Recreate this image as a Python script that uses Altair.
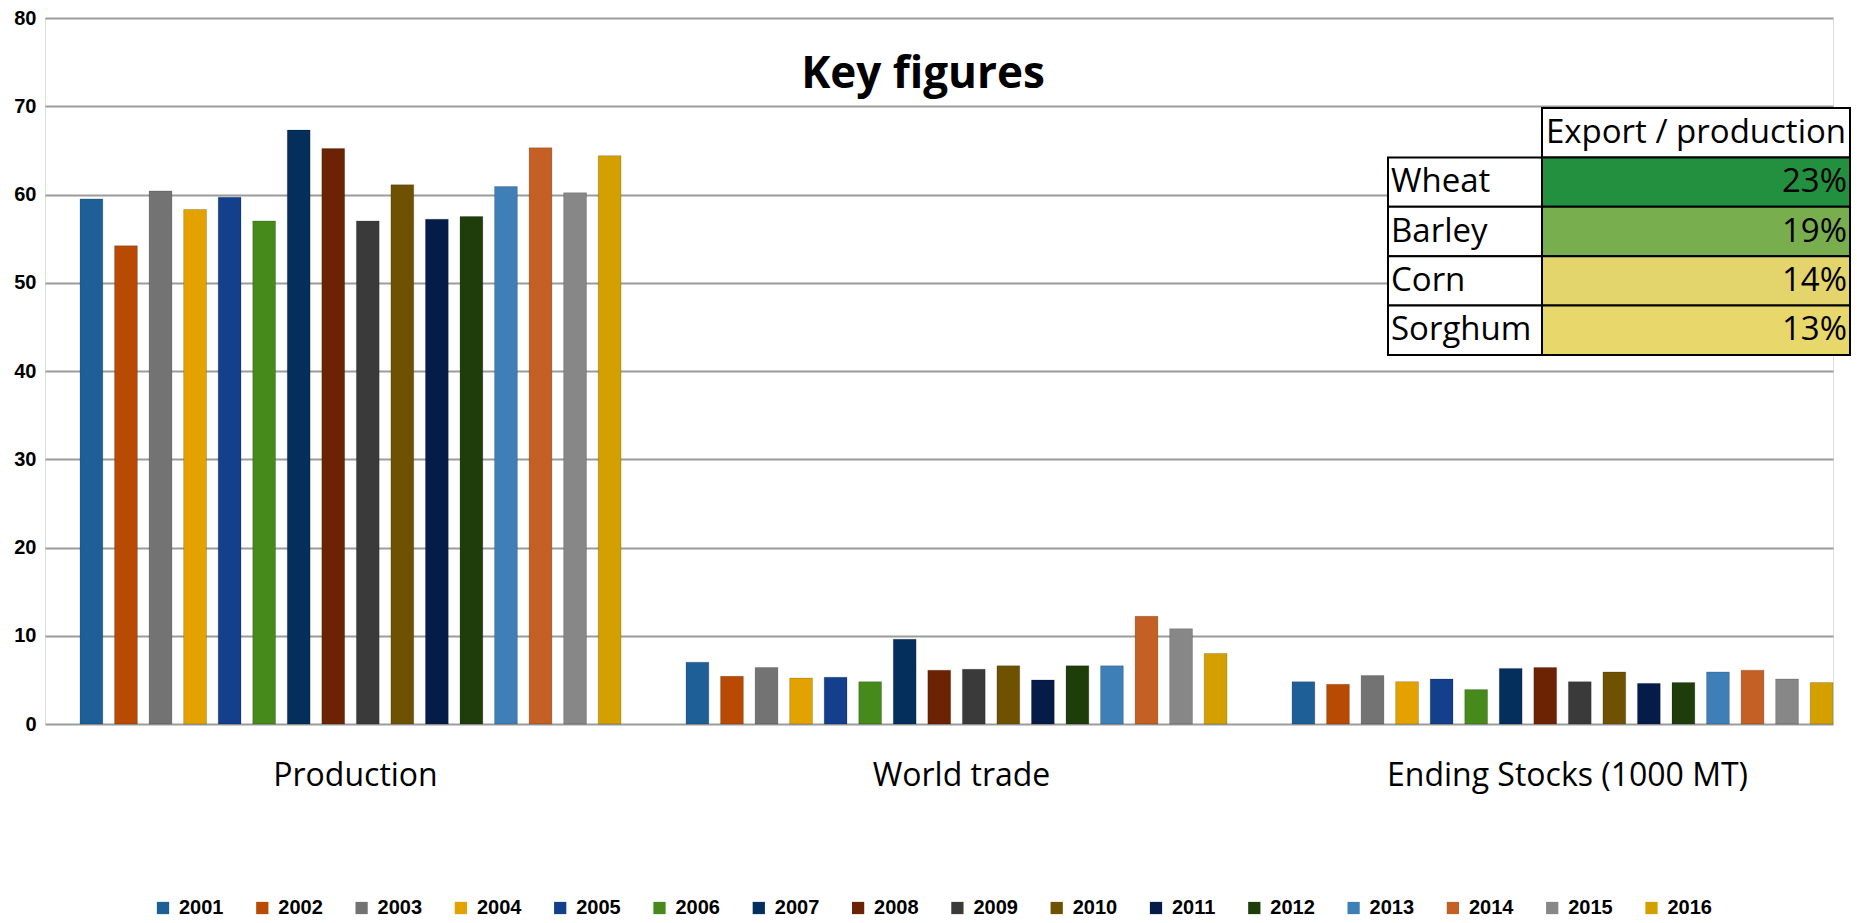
import altair as alt
import pandas as pd

# ---- chart data -------------------------------------------------------------
years = [str(y) for y in range(2001, 2017)]
categories = ["Production", "World trade", "Ending Stocks (1000 MT)"]

production = [59.5, 54.2, 60.4, 58.3, 59.7, 57.0, 67.3, 65.2,
              57.0, 61.1, 57.2, 57.5, 60.9, 65.3, 60.2, 64.4]
world_trade = [7.0, 5.4, 6.4, 5.2, 5.3, 4.8, 9.6, 6.1,
               6.2, 6.6, 5.0, 6.6, 6.6, 12.2, 10.8, 8.0]
ending_stocks = [4.8, 4.5, 5.5, 4.8, 5.1, 3.9, 6.3, 6.4,
                 4.8, 5.9, 4.6, 4.7, 5.9, 6.1, 5.1, 4.7]

year_colors = ["#1F5F97", "#B84A04", "#737373", "#E3A200", "#133F8C", "#458A1A",
               "#042E5B", "#6B2304", "#3A3A3A", "#6F5102", "#061C48", "#1E3D0A",
               "#3F7FB8", "#C46024", "#878787", "#D4A000"]

# inset table: export / production share per crop
crops = ["Wheat", "Barley", "Corn", "Sorghum"]
export_share = [23, 19, 14, 13]
share_colors = ["#22903F", "#79AE4F", "#E3D46B", "#E8D76B"]
table_header = "Export / production"

# ---- frames -----------------------------------------------------------------
series = {"Production": production, "World trade": world_trade,
          "Ending Stocks (1000 MT)": ending_stocks}
bars_df = pd.DataFrame(
    [{"category": c, "year": y, "value": v}
     for c in categories for y, v in zip(years, series[c])]
)

row_keys = ["header"] + crops
value_cells = pd.DataFrame({
    "row": row_keys,
    "text": [table_header] + [f"{s}%" for s in export_share],
    "x0": 1, "x1": 3,
})
name_cells = pd.DataFrame({"row": crops, "text": crops, "x0": 0, "x1": 1})

NUM = "Liberation Sans Narrow, Liberation Sans, Arial, sans-serif"
TEXT = "Open Sans"

# ---- grouped bars -----------------------------------------------------------
bars = alt.Chart(bars_df).mark_bar(
    stroke="black", strokeOpacity=0.18, strokeWidth=1
).encode(
    x=alt.X(
        "category:N", sort=categories,
        scale=alt.Scale(domain=categories, paddingInner=0.1073,
                        paddingOuter=0.0289, align=1),
        axis=alt.Axis(
            title=None, labelAngle=0, ticks=False, domain=False, grid=False,
            labelLimit=0, labelFont=TEXT, labelFontSize=32, labelColor="black",
            labelBaseline="top", labelPadding=36, labelOffset=5,
        ),
    ),
    xOffset=alt.XOffset(
        "year:N", sort=years,
        scale=alt.Scale(domain=years, paddingInner=0.34, paddingOuter=0),
    ),
    y=alt.Y(
        "value:Q", scale=alt.Scale(domain=[0, 80]),
        axis=alt.Axis(
            title=None, values=list(range(0, 81, 10)), ticks=False, domain=False,
            gridColor="#9B9B9B", gridWidth=2,
            labelFont=NUM, labelFontSize=20, labelFontWeight="bold",
            labelColor="black", labelPadding=9,
        ),
    ),
    color=alt.Color(
        "year:N", sort=years,
        scale=alt.Scale(domain=years, range=year_colors),
        legend=alt.Legend(
            title=None, orient="none", legendX=108, legendY=880,
            direction="horizontal", columns=16, columnPadding=28.3,
            symbolType="square", symbolSize=150, symbolStrokeWidth=0,
            labelFont=NUM, labelFontSize=20, labelFontWeight="bold",
            labelColor="black", labelOffset=6,
        ),
    ),
)

# ---- inset table ------------------------------------------------------------
table_x = alt.Scale(domain=[0, 3], range=[1343, 1805])
tx = alt.X("x0:Q", scale=table_x, axis=None)
ty = alt.Y("row:N", sort=row_keys,
           scale=alt.Scale(domain=row_keys, range=[90, 337],
                           paddingInner=0, paddingOuter=0),
           axis=None)

name_rects = alt.Chart(name_cells).mark_rect(
    fill="white", stroke="black", strokeWidth=2
).encode(x=tx, x2="x1:Q", y=ty)

value_rects = alt.Chart(value_cells).mark_rect(
    stroke="black", strokeWidth=2
).encode(
    x=tx, x2="x1:Q", y=ty,
    fill=alt.Fill("row:N", sort=row_keys,
                  scale=alt.Scale(domain=row_keys, range=["white"] + share_colors),
                  legend=None),
)

header_text = alt.Chart(value_cells).transform_filter(
    "datum.row === 'header'"
).transform_calculate(
    mid="(datum.x0 + datum.x1) / 2"
).mark_text(font=TEXT, fontSize=33, color="black", align="center").encode(
    x=alt.X("mid:Q", scale=table_x, axis=None),
    y=ty, text="text:N",
)

value_text = alt.Chart(value_cells).transform_filter(
    "datum.row !== 'header'"
).mark_text(font=TEXT, fontSize=33, color="black", align="right", dx=-3).encode(
    x=alt.X("x1:Q", scale=table_x, axis=None),
    y=ty, text="text:N",
)

name_text = alt.Chart(name_cells).mark_text(
    font=TEXT, fontSize=33, color="black", align="left", dx=3
).encode(x=tx, y=ty, text="text:N")

chart = alt.layer(
    bars, name_rects, value_rects, header_text, value_text, name_text
).resolve_scale(
    x="independent", y="independent"
).properties(
    width=1788, height=706,
    autosize=alt.AutoSizeParams(type="none"),
    padding={"left": 45, "top": 18, "right": 24, "bottom": 199},
    title=alt.TitleParams(
        "Key figures", font=TEXT, fontSize=44, fontWeight="bold",
        color="black", anchor="middle", dx=-16, dy=93,
    ),
).configure_view(
    stroke="transparent", strokeWidth=0
).configure(background="white")

chart.save("out.html", embed_options={"renderer": "svg", "actions": False})
